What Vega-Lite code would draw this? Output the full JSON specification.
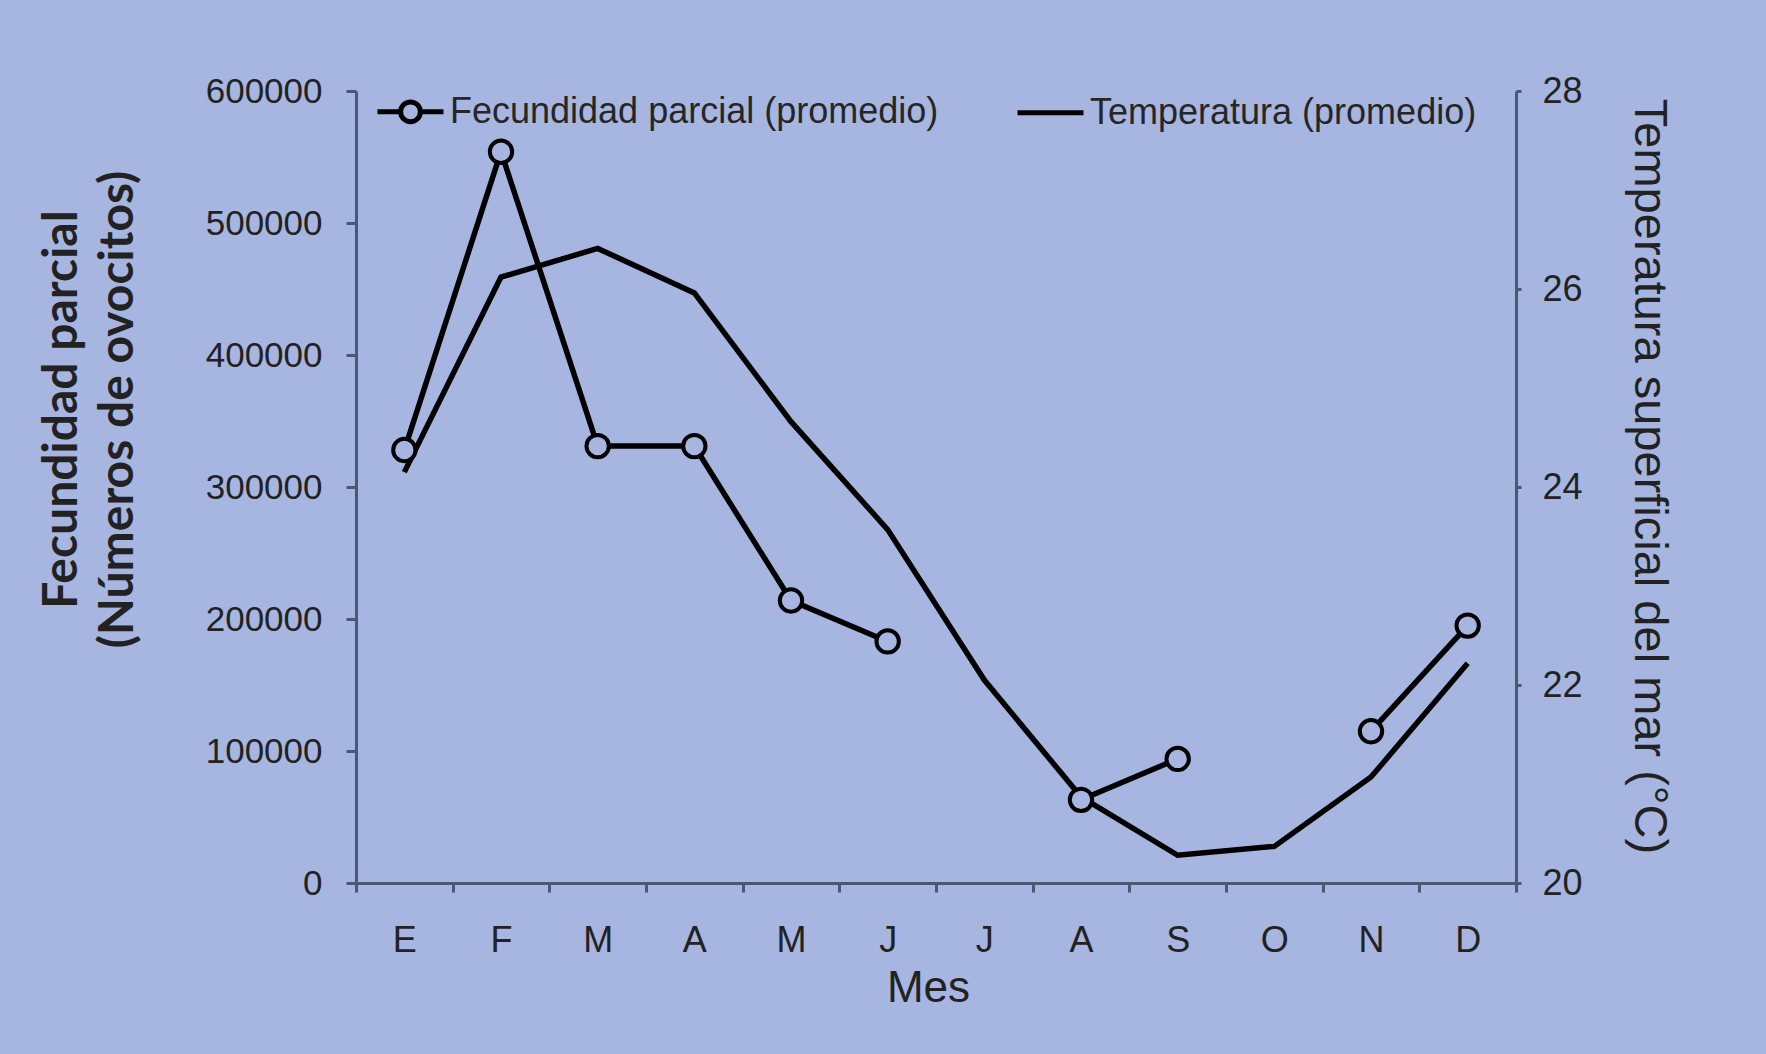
{
  "$schema": "https://vega.github.io/schema/vega-lite/v6.json",
  "autosize": "none",
  "width": 1160,
  "height": 792,
  "padding": {"left": 356, "top": 91, "right": 250, "bottom": 171},
  "background": "#a7b6e0",
  "config": {
    "view": {"stroke": null},
    "axis": {
      "grid": false,
      "labelFont": "Liberation Sans",
      "titleFont": "Liberation Sans",
      "labelColor": "#222222",
      "titleColor": "#222222",
      "domainColor": "#4d5773",
      "tickColor": "#4d5773",
      "domainWidth": 3,
      "tickWidth": 3
    }
  },
  "data": {
    "values": [
      {"mes": "Ene", "fecundidad": 328000, "temperatura": 24.15},
      {"mes": "Feb", "fecundidad": 554000, "temperatura": 26.12},
      {"mes": "Mar", "fecundidad": 331000, "temperatura": 26.41},
      {"mes": "Abr", "fecundidad": 331000, "temperatura": 25.96},
      {"mes": "May", "fecundidad": 214000, "temperatura": 24.66},
      {"mes": "Jun", "fecundidad": 183000, "temperatura": 23.57},
      {"mes": "Jul", "fecundidad": null, "temperatura": 22.05},
      {"mes": "Ago", "fecundidad": 63000, "temperatura": 20.87},
      {"mes": "Sep", "fecundidad": 94000, "temperatura": 20.28},
      {"mes": "Oct", "fecundidad": null, "temperatura": 20.37},
      {"mes": "Nov", "fecundidad": 115000, "temperatura": 21.07},
      {"mes": "Dic", "fecundidad": 195000, "temperatura": 22.22}
    ]
  },
  "encoding": {
    "x": {
      "field": "mes",
      "type": "ordinal",
      "sort": null,
      "bandPosition": 0.5,
      "scale": {"type": "band", "paddingInner": 0, "paddingOuter": 0},
      "axis": {
        "title": "Mes",
        "titleFontSize": 44,
        "titleFontWeight": "normal",
        "titleX": 572,
        "titleY": 105,
        "titleBaseline": "middle",
        "labelExpr": "isValid(datum.value) ? substring(datum.value, 0, 1) : ''",
        "labelAngle": 0,
        "labelFontSize": 36,
        "labelBaseline": "middle",
        "labelPadding": 48,
        "tickSize": 9,
        "tickBand": "extent"
      }
    }
  },
  "layer": [
    {
      "mark": {"type": "line", "strokeWidth": 5.5},
      "encoding": {
        "y": {
          "field": "temperatura",
          "type": "quantitative",
          "scale": {"domain": [20, 28]},
          "axis": {
            "orient": "right",
            "title": "Temperatura superficial del mar (°C)",
            "titleFontSize": 47,
            "titleFontWeight": "normal",
            "titleAngle": 90,
            "titleX": 132,
            "titleY": 385,
            "titleBaseline": "middle",
            "titleAlign": "center",
            "values": [20, 22, 24, 26, 28],
            "labelFontSize": 36,
            "tickSize": 5,
            "labelPadding": 21
          }
        },
        "color": {
          "datum": "Temperatura (promedio)",
          "scale": {
            "domain": ["Fecundidad parcial (promedio)", "Temperatura (promedio)"],
            "range": ["black", "black"]
          },
          "legend": {
            "title": null,
            "orient": "none",
            "direction": "horizontal",
            "legendX": 19,
            "legendY": -15,
            "symbolSize": 4356,
            "symbolStrokeWidth": 5,
            "labelFont": "Liberation Sans",
            "labelFontSize": 36,
            "labelColor": "#262626",
            "labelOffset": 4,
            "labelLimit": 0,
            "columnPadding": 68,
            "encode": {
              "symbols": {
                "update": {
                  "shape": {"signal": "datum.value === 'Fecundidad parcial (promedio)' ? 'M-1,0L-0.3,0M0.3,0L1,0M-0.3,0A0.3,0.3,0,1,1,0.3,0A0.3,0.3,0,1,1,-0.3,0' : 'stroke'"},
                  "fill": {"value": "#a7b6e0"},
                  "stroke": {"value": "black"},
                  "strokeWidth": {"value": 5}
                }
              }
            }
          }
        }
      }
    },
    {
      "layer": [
        {
          "mark": {"type": "line", "strokeWidth": 5.5, "invalid": "break-paths-show-domains"},
          "encoding": {
            "color": {"datum": "Fecundidad parcial (promedio)"}
          }
        },
        {
          "mark": {"type": "point", "shape": "circle", "filled": true, "fill": "#a7b6e0", "stroke": "black", "strokeWidth": 4, "size": 500, "opacity": 1}
        }
      ],
      "encoding": {
        "y": {
          "field": "fecundidad",
          "type": "quantitative",
          "scale": {"domain": [0, 600000]},
          "axis": {
            "orient": "left",
            "title": ["Fecundidad parcial", "(Números de ovocitos)"],
            "titleFont": "Lato",
            "titleFontWeight": "bold",
            "titleFontSize": 48,
            "titleLineHeight": 56,
            "titleAngle": -90,
            "titleX": -294,
            "titleY": 318,
            "titleBaseline": "middle",
            "titleAlign": "center",
            "values": [0, 100000, 200000, 300000, 400000, 500000, 600000],
            "format": "d",
            "labelFontSize": 35,
            "labelPadding": 24,
            "tickSize": 10
          }
        }
      }
    }
  ],
  "resolve": {"scale": {"y": "independent"}}
}
